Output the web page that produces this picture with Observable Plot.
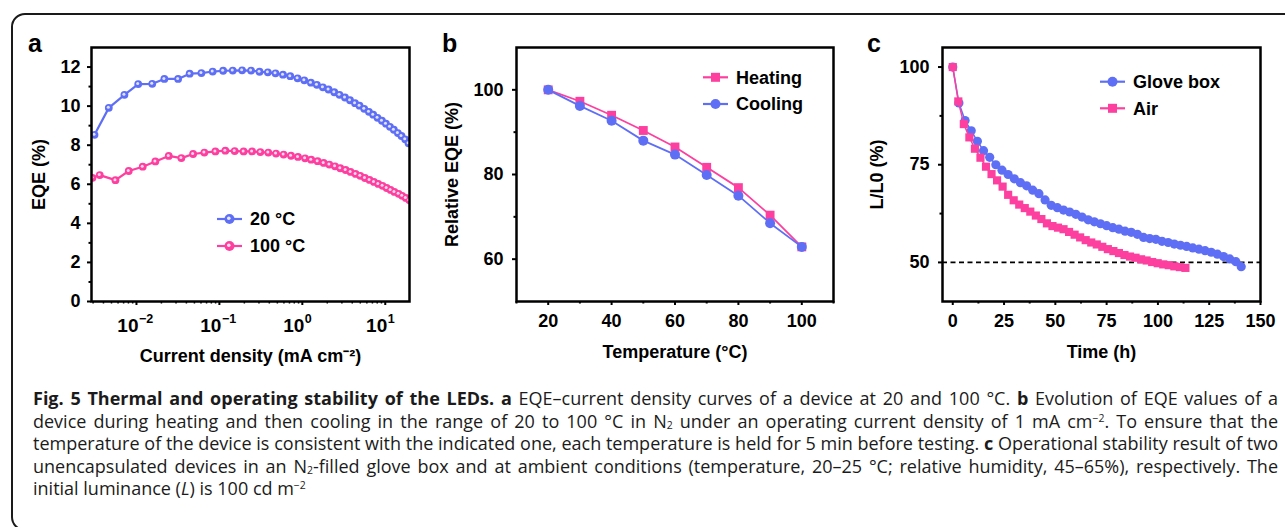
<!DOCTYPE html>
<html>
<head>
<meta charset="utf-8">
<script src="https://cdn.jsdelivr.net/npm/d3@7"></script>
<script src="https://cdn.jsdelivr.net/npm/@observablehq/plot@0.6"></script>
<style>
html,body{margin:0;padding:0;background:#fff;}
#root{position:relative;width:1285px;height:527px;overflow:hidden;background:#fff;}
#border{position:absolute;left:11px;top:13px;width:1300px;height:518px;box-sizing:border-box;border:2px solid #1a1a1a;border-radius:14px;}
.panel{position:absolute;top:0;}
#overlay{position:absolute;left:0;top:0;pointer-events:none;}
#caption{position:absolute;left:33px;top:387.4px;width:1245px;font-family:"Open Sans",sans-serif;font-size:18px;color:#1b1b1b;}
.cl{height:22.5px;line-height:22.5px;white-space:nowrap;}
.cl b{font-weight:700;}
sub{font-size:58%;line-height:0;vertical-align:-0.12em;}
sup{font-size:58%;line-height:0;vertical-align:0.55em;}
</style>
</head>
<body>
<div id="root">
  <div id="border"></div>
  <div id="pa" class="panel" style="left:0px"></div>
  <div id="pb" class="panel" style="left:430px"></div>
  <div id="pc" class="panel" style="left:855px"></div>
  <svg id="overlay" width="1285" height="527"></svg>
  <div id="caption">
    <div class="cl just"><span><b>Fig. 5 Thermal and operating stability of the LEDs.</b> <b>a</b> EQE–current density curves of a device at 20 and 100 °C. <b>b</b> Evolution of EQE values of a</span></div>
    <div class="cl just"><span>device during heating and then cooling in the range of 20 to 100 °C in N<sub>2</sub> under an operating current density of 1 mA cm<sup>−2</sup>. To ensure that the</span></div>
    <div class="cl just"><span>temperature of the device is consistent with the indicated one, each temperature is held for 5 min before testing. <b>c</b> Operational stability result of two</span></div>
    <div class="cl just"><span>unencapsulated devices in an N<sub>2</sub>-filled glove box and at ambient conditions (temperature, 20–25 °C; relative humidity, 45–65%), respectively. The</span></div>
    <div class="cl"><span>initial luminance (<i>L</i>) is 100 cd m<sup>−2</sup></span></div>
  </div>
</div>
<script>
// ---------------- DATA ----------------
// Panel a: EQE vs current density
const aJ20 = [0.00312, 0.00464, 0.00716, 0.0105, 0.0155, 0.0217, 0.0318, 0.0438, 0.0607, 0.083, 0.111, 0.145, 0.188, 0.241, 0.305, 0.384, 0.475, 0.585, 0.716, 0.877, 1.057, 1.27, 1.50, 1.77, 2.07, 2.43, 2.81, 3.27, 3.76, 4.32, 4.90, 5.58, 6.36, 7.16, 8.07, 9.12, 10.2, 11.4, 12.7, 14.2, 15.7, 17.4, 19.1];
const aEQE20 = [8.53, 9.91, 10.58, 11.13, 11.14, 11.39, 11.39, 11.66, 11.69, 11.77, 11.81, 11.82, 11.83, 11.82, 11.76, 11.73, 11.68, 11.61, 11.53, 11.42, 11.32, 11.20, 11.09, 10.96, 10.85, 10.71, 10.58, 10.44, 10.30, 10.15, 10.02, 9.86, 9.71, 9.56, 9.40, 9.25, 9.10, 8.94, 8.79, 8.62, 8.47, 8.30, 8.10];
const aJ100 = [0.00295, 0.00361, 0.00558, 0.00807, 0.0119, 0.0169, 0.0245, 0.0348, 0.0482, 0.0659, 0.0895, 0.118, 0.153, 0.196, 0.248, 0.312, 0.389, 0.482, 0.595, 0.731, 0.887, 1.08, 1.28, 1.53, 1.81, 2.12, 2.48, 2.87, 3.33, 3.82, 4.39, 5.00, 5.69, 6.47, 7.31, 8.24, 9.28, 10.4, 11.6, 12.9, 14.5, 16.0, 17.7, 19.5];
const aEQE100 = [6.33, 6.47, 6.21, 6.68, 6.90, 7.17, 7.45, 7.34, 7.55, 7.62, 7.68, 7.72, 7.70, 7.68, 7.68, 7.65, 7.62, 7.57, 7.52, 7.46, 7.40, 7.33, 7.26, 7.18, 7.09, 7.01, 6.92, 6.82, 6.73, 6.63, 6.53, 6.43, 6.32, 6.22, 6.12, 6.02, 5.92, 5.81, 5.71, 5.61, 5.51, 5.41, 5.30, 5.18];
const aSeries = ["20 °C", "100 °C"];
const aYTicks = [0, 2, 4, 6, 8, 10, 12];
const aYMinor = [1, 3, 5, 7, 9, 11];
const aXMajor = [0.01, 0.1, 1, 10];
const aXExp = ["−2", "−1", "0", "1"];
const aXMinor = [0.003, 0.004, 0.005, 0.006, 0.007, 0.008, 0.009, 0.02, 0.03, 0.04, 0.05, 0.06, 0.07, 0.08, 0.09, 0.2, 0.3, 0.4, 0.5, 0.6, 0.7, 0.8, 0.9, 2, 3, 4, 5, 6, 7, 8, 9];

// Panel b: relative EQE vs temperature
const bTemp = [20, 30, 40, 50, 60, 70, 80, 90, 100];
const bHeating = [100, 97.3, 94.0, 90.4, 86.5, 81.7, 76.9, 70.4, 62.9];
const bCooling = [100, 96.2, 92.7, 88.0, 84.7, 79.9, 75.0, 68.5, 62.9];
const bSeries = ["Heating", "Cooling"];
const bXTicks = [20, 40, 60, 80, 100];
const bXMinor = [10, 30, 50, 70, 90, 110];
const bYTicks = [60, 80, 100];
const bYMinor = [70, 90];

// Panel c: L/L0 vs time
const cGloveT = [0, 3, 6, 9, 12, 15, 18, 21, 24, 27, 30, 33, 36, 39, 42, 45, 48, 51, 54, 57, 60, 63, 66, 69, 72, 75, 78, 81, 84, 87, 90, 93, 96, 99, 102, 105, 108, 111, 114, 117, 120, 123, 126, 129, 132, 135, 138, 140.6];
const cGloveL = [100, 90.8, 86.3, 83.7, 81.0, 78.6, 76.9, 75.0, 73.6, 72.5, 71.4, 70.4, 69.6, 68.5, 67.6, 66.0, 64.6, 64.0, 63.4, 62.9, 62.3, 61.6, 60.9, 60.4, 59.9, 59.4, 58.9, 58.5, 58.0, 57.7, 57.2, 56.4, 56.1, 55.9, 55.4, 55.1, 54.7, 54.4, 54.1, 53.7, 53.4, 53.0, 52.6, 52.1, 51.5, 50.9, 50.2, 48.9];
const cAirT = [0, 2.7, 5.4, 8.1, 10.8, 13.5, 16.2, 18.9, 21.6, 24.3, 27, 29.7, 32.4, 35.1, 37.8, 40.5, 43.2, 45.9, 48.6, 51.3, 54, 56.7, 59.4, 62.1, 64.8, 67.5, 70.2, 72.9, 75.6, 78.3, 81, 83.7, 86.4, 89.1, 91.8, 94.5, 97.2, 99.9, 102.6, 105.3, 108, 110.7, 113.4];
const cAirL = [100, 91.2, 85.4, 82.0, 79.1, 76.8, 74.5, 72.6, 71.0, 69.4, 67.3, 65.9, 64.8, 63.9, 63.0, 62.0, 61.1, 60.0, 59.3, 58.9, 58.5, 57.8, 57.1, 56.4, 55.7, 55.1, 54.6, 54.0, 53.4, 52.9, 52.4, 51.9, 51.5, 51.2, 50.8, 50.5, 50.1, 49.8, 49.5, 49.3, 49.0, 48.8, 48.6];
const cSeries = ["Glove box", "Air"];
const cXTicks = [0, 25, 50, 75, 100, 125, 150];
const cXMinor = [12.5, 37.5, 62.5, 87.5, 112.5, 137.5];
const cYTicks = [50, 75, 100];
const cYMinor = [62.5, 87.5];
const cThreshold = [50];

// ---------------- STYLE ----------------
const blue = "#5e6ff5";
const pink = "#fd3f9f";
const baseStyle = {fontFamily: '"Liberation Sans", Arial, sans-serif', fontSize: "18px", fontWeight: "bold", color: "black", background: "transparent", overflow: "visible"};
const W = 430, H = 370, MT = 47, MB = 69;

// ---------------- PANEL A ----------------
const a20 = aJ20.map((j, i) => ({j, e: aEQE20[i]}));
const a100 = aJ100.map((j, i) => ({j, e: aEQE100[i]}));
function sphere(data, color) {
  return [
    Plot.line(data, {x: "j", y: "e", stroke: color, strokeWidth: 2.2, clip: true}),
    Plot.dot(data, {x: "j", y: "e", r: 3.9, fill: color, clip: true}),
    Plot.dot(data, {x: "j", y: "e", r: 1.5, fill: "white", fillOpacity: 0.8, dx: -0.5, dy: -0.5, clip: true})
  ];
}
const plotA = Plot.plot({
  width: W, height: H, marginLeft: 91, marginRight: 21, marginTop: MT, marginBottom: MB,
  style: baseStyle,
  x: {type: "log", domain: [0.00287, 19.6]},
  y: {domain: [0, 13]},
  marks: [
    ...sphere(a100, pink),
    ...sphere(a20, blue),
    Plot.axisY({ticks: aYTicks, tickSize: 4, tickPadding: 7, strokeWidth: 2, label: "EQE (%)", labelAnchor: "center", labelOffset: 59, labelArrow: "none"}),
    Plot.axisY({ticks: aYMinor, tickSize: 2.5, strokeWidth: 2, tickFormat: () => "", label: null}),
    Plot.axisX({ticks: aXMajor, tickSize: 4, strokeWidth: 2, tickFormat: () => "", label: "Current density (mA cm⁻²)", labelAnchor: "center", labelOffset: 60, labelArrow: "none"}),
    Plot.axisX({ticks: aXMinor, tickSize: 2.5, strokeWidth: 1.5, tickFormat: () => "", label: null}),
    Plot.text(aXMajor, {x: d => d, text: () => "10", frameAnchor: "bottom", textAnchor: "end", lineAnchor: "bottom", dx: 2, dy: 30, fontSize: 19}),
    Plot.text(aXMajor, {x: d => d, text: (d, i) => aXExp[i], frameAnchor: "bottom", textAnchor: "start", lineAnchor: "bottom", dx: 2.5, dy: 21, fontSize: 12.5}),
    Plot.frame({strokeWidth: 2.5})
  ]
});
document.getElementById("pa").appendChild(plotA);

// ---------------- PANEL B ----------------
const bH = bTemp.map((t, i) => ({t, v: bHeating[i]}));
const bC = bTemp.map((t, i) => ({t, v: bCooling[i]}));
const plotB = Plot.plot({
  width: W, height: H, marginLeft: 86, marginRight: 27, marginTop: MT, marginBottom: MB,
  style: baseStyle,
  x: {domain: [10, 110]},
  y: {domain: [50, 110]},
  marks: [
    Plot.line(bH, {x: "t", y: "v", stroke: pink, strokeWidth: 1.8}),
    Plot.dot(bH, {x: "t", y: "v", symbol: "square", r: 5, fill: pink}),
    Plot.line(bC, {x: "t", y: "v", stroke: blue, strokeWidth: 1.8}),
    Plot.dot(bC, {x: "t", y: "v", r: 5, fill: blue}),
    Plot.axisY({ticks: bYTicks, tickSize: 4, tickPadding: 9, strokeWidth: 2, label: "Relative EQE (%)", labelAnchor: "center", labelOffset: 71, labelArrow: "none"}),
    Plot.axisY({ticks: bYMinor, tickSize: 2.5, strokeWidth: 2, tickFormat: () => "", label: null}),
    Plot.axisX({ticks: bXTicks, tickSize: 4, tickPadding: 9, strokeWidth: 2, label: "Temperature (°C)", labelAnchor: "center", labelOffset: 56, labelArrow: "none"}),
    Plot.axisX({ticks: bXMinor, tickSize: 2.5, strokeWidth: 2, tickFormat: () => "", label: null}),
    Plot.frame({strokeWidth: 2.5})
  ]
});
document.getElementById("pb").appendChild(plotB);

// ---------------- PANEL C ----------------
const cG = cGloveT.map((t, i) => ({t, v: cGloveL[i]}));
const cA = cAirT.map((t, i) => ({t, v: cAirL[i]}));
const plotC = Plot.plot({
  width: W, height: H, marginLeft: 87, marginRight: 25, marginTop: MT, marginBottom: MB,
  style: baseStyle,
  x: {domain: [-5, 150]},
  y: {domain: [40, 105]},
  marks: [
    Plot.ruleY(cThreshold, {stroke: "black", strokeWidth: 1.6, strokeDasharray: "5,3.5"}),
    Plot.line(cG, {x: "t", y: "v", stroke: blue, strokeWidth: 1.5}),
    Plot.dot(cG, {x: "t", y: "v", r: 4.6, fill: blue}),
    Plot.line(cA, {x: "t", y: "v", stroke: pink, strokeWidth: 1.5}),
    Plot.dot(cA, {x: "t", y: "v", symbol: "square", r: 4.6, fill: pink}),
    Plot.axisY({ticks: cYTicks, tickSize: 4, tickPadding: 9, strokeWidth: 2, label: "L/L0 (%)", labelAnchor: "center", labelOffset: 72, labelArrow: "none"}),
    Plot.axisY({ticks: cYMinor, tickSize: 2.5, strokeWidth: 2, tickFormat: () => "", label: null}),
    Plot.axisX({ticks: cXTicks, tickSize: 4, tickPadding: 9, strokeWidth: 2, label: "Time (h)", labelAnchor: "center", labelOffset: 56, labelArrow: "none"}),
    Plot.axisX({ticks: cXMinor, tickSize: 2.5, strokeWidth: 2, tickFormat: () => "", label: null}),
    Plot.frame({strokeWidth: 2.5})
  ]
});
document.getElementById("pc").appendChild(plotC);

// ---------------- OVERLAY: panel letters & legends ----------------
const ov = d3.select("#overlay");
const fontFam = '"Liberation Sans", Arial, sans-serif';
[["a", 28, 52], ["b", 442, 52], ["c", 867, 52]].forEach(([t, x, y]) => {
  ov.append("text").attr("x", x).attr("y", y).text(t)
    .attr("font-family", fontFam).attr("font-weight", "bold").attr("font-size", 25).attr("fill", "black");
});
function legendItem(x1, x2, y, color, shape, label) {
  ov.append("line").attr("x1", x1).attr("x2", x2).attr("y1", y).attr("y2", y).attr("stroke", color).attr("stroke-width", 2.2);
  const cx = (x1 + x2) / 2;
  if (shape === "square") {
    ov.append("rect").attr("x", cx - 4.5).attr("y", y - 4.5).attr("width", 9).attr("height", 9).attr("fill", color);
  } else {
    ov.append("circle").attr("cx", cx).attr("cy", y).attr("r", 5).attr("fill", color);
    if (shape === "sphere") ov.append("circle").attr("cx", cx - 0.7).attr("cy", y - 0.7).attr("r", 1.8).attr("fill", "white").attr("fill-opacity", 0.85);
  }
  ov.append("text").attr("x", x2 + 8).attr("y", y + 6.4).text(label)
    .attr("font-family", fontFam).attr("font-weight", "bold").attr("font-size", 18).attr("fill", "black");
}
legendItem(217, 242, 219, blue, "sphere", aSeries[0]);
legendItem(217, 242, 246, pink, "sphere", aSeries[1]);
legendItem(703, 728, 77.3, pink, "square", bSeries[0]);
legendItem(703, 728, 104, blue, "circle", bSeries[1]);
legendItem(1100, 1125, 81.7, blue, "circle", cSeries[0]);
legendItem(1100, 1125, 108.3, pink, "square", cSeries[1]);

// ---------------- caption justification ----------------
function justify() {
  const target = 1245;
  document.querySelectorAll(".cl.just").forEach(div => {
    const span = div.firstElementChild;
    span.style.letterSpacing = "0px";
    span.style.wordSpacing = "0px";
    let w = span.getBoundingClientRect().width;
    const txt = span.textContent;
    if (w > target) {
      span.style.letterSpacing = ((target - w) / txt.length) + "px";
      w = span.getBoundingClientRect().width;
    }
    const spaces = (txt.match(/ /g) || []).length;
    span.style.wordSpacing = ((target - w) / spaces) + "px";
  });
}
justify();
if (document.fonts && document.fonts.ready) document.fonts.ready.then(justify);
</script>
</body>
</html>
